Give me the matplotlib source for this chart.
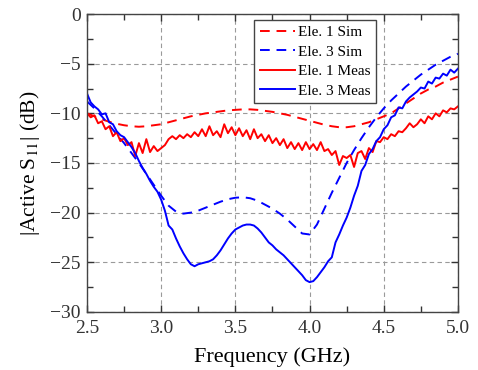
import matplotlib.pyplot as plt
import numpy as np
from matplotlib.ticker import MultipleLocator

plt.rcParams['font.family'] = ['Liberation Serif', 'DejaVu Serif']
plt.rcParams['mathtext.fontset'] = 'stix'

# simulated curves, 0.05 GHz step
f_sim = [2.50, 2.55, 2.60, 2.65, 2.70, 2.75, 2.80, 2.85, 2.90, 2.95,
         3.00, 3.05, 3.10, 3.15, 3.20, 3.25, 3.30, 3.35, 3.40, 3.45,
         3.50, 3.55, 3.60, 3.65, 3.70, 3.75, 3.80, 3.85, 3.90, 3.95,
         4.00, 4.05, 4.10, 4.15, 4.20, 4.25, 4.30, 4.35, 4.40, 4.45,
         4.50, 4.55, 4.60, 4.65, 4.70, 4.75, 4.80, 4.85, 4.90, 4.95, 5.00]
ele1_sim = [-10.0, -10.3, -10.6, -10.85, -11.05, -11.2, -11.3, -11.35, -11.3, -11.2,
            -11.1, -10.9, -10.7, -10.5, -10.3, -10.15, -10.0, -9.9, -9.8, -9.7,
            -9.65, -9.6, -9.6, -9.65, -9.75, -9.85, -10.0, -10.15, -10.35, -10.55,
            -10.75, -10.95, -11.15, -11.3, -11.4, -11.4, -11.3, -11.1, -10.9, -10.6,
            -10.3, -10.0, -9.5, -9.0, -8.5, -8.0, -7.6, -7.3, -6.9, -6.6, -6.3]
ele3_sim = [-8.8, -9.5, -10.3, -11.2, -12.1, -13.0, -14.0, -15.0, -16.1, -17.2,
            -18.3, -19.3, -19.9, -20.1, -20.0, -19.8, -19.5, -19.2, -18.9, -18.65,
            -18.5, -18.45, -18.55, -18.8, -19.2, -19.6, -20.1, -20.7, -21.4, -22.1,
            -22.2, -21.2, -19.6, -18.0, -16.5, -15.0, -13.7, -12.5, -11.4, -10.4,
            -9.5, -8.7, -8.0, -7.3, -6.7, -6.1, -5.6, -5.1, -4.7, -4.3, -4.0]

# measured curves, 0.025 GHz step
f_meas = [2.500, 2.525, 2.550, 2.575, 2.600, 2.625, 2.650, 2.675, 2.700, 2.725,
          2.750, 2.775, 2.800, 2.825, 2.850, 2.875, 2.900, 2.925, 2.950, 2.975,
          3.000, 3.025, 3.050, 3.075, 3.100, 3.125, 3.150, 3.175, 3.200, 3.225,
          3.250, 3.275, 3.300, 3.325, 3.350, 3.375, 3.400, 3.425, 3.450, 3.475,
          3.500, 3.525, 3.550, 3.575, 3.600, 3.625, 3.650, 3.675, 3.700, 3.725,
          3.750, 3.775, 3.800, 3.825, 3.850, 3.875, 3.900, 3.925, 3.950, 3.975,
          4.000, 4.025, 4.050, 4.075, 4.100, 4.125, 4.150, 4.175, 4.200, 4.225,
          4.250, 4.275, 4.300, 4.325, 4.350, 4.375, 4.400, 4.425, 4.450, 4.475,
          4.500, 4.525, 4.550, 4.575, 4.600, 4.625, 4.650, 4.675, 4.700, 4.725,
          4.750, 4.775, 4.800, 4.825, 4.850, 4.875, 4.900, 4.925, 4.950, 4.975, 5.000]
ele1_meas = [-10.0, -10.4, -10.2, -11.0, -10.8, -11.6, -11.3, -12.3, -11.9, -12.8,
             -12.5, -13.2, -12.9, -14.3, -13.0, -14.0, -12.6, -13.9, -13.3, -13.8,
             -13.5, -13.2, -12.6, -12.3, -12.6, -12.2, -12.5, -12.1, -12.4, -11.9,
             -12.3, -11.6, -12.3, -11.3, -12.2, -11.8, -12.4, -11.1, -12.0, -11.4,
             -12.2, -11.5, -12.3, -11.7, -12.6, -11.6, -12.5, -12.1, -12.8, -12.2,
             -13.0, -12.5, -13.2, -12.6, -13.5, -12.9, -13.6, -13.0, -13.7, -12.9,
             -13.6, -13.1, -13.7, -12.9, -13.8, -13.6, -14.2, -13.8, -15.2, -14.3,
             -14.5, -14.2, -15.4, -14.0, -13.8, -14.6, -13.5, -13.9, -12.8, -12.9,
             -12.4, -12.6, -12.1, -12.3, -11.8, -11.9, -11.5, -11.0, -11.4, -11.1,
             -10.6, -11.0, -10.3, -10.6, -10.0, -10.3, -9.7, -9.9, -9.5, -9.6, -9.3]
ele3_meas = [-8.0, -8.9, -9.3, -9.6, -10.1, -10.0, -10.9, -11.1, -11.8, -12.2,
             -12.4, -12.9, -13.4, -14.0, -14.8, -15.5, -16.1, -16.8, -17.4, -17.9,
             -18.7, -19.8, -21.3, -21.7, -22.6, -23.4, -24.1, -24.7, -25.2, -25.4,
             -25.2, -25.1, -25.0, -24.9, -24.7, -24.3, -23.8, -23.2, -22.6, -22.1,
             -21.7, -21.5, -21.3, -21.2, -21.2, -21.3, -21.6, -22.0, -22.5, -23.0,
             -23.3, -23.7, -24.0, -24.3, -24.7, -25.1, -25.5, -25.9, -26.3, -26.8,
             -27.0, -26.9, -26.5, -26.0, -25.5, -24.9, -24.5, -23.0, -22.2, -21.3,
             -20.5, -19.5, -18.3, -17.3, -15.8, -15.2, -14.1, -13.6, -12.8, -12.4,
             -11.6, -11.2, -10.4, -10.2, -9.4, -9.5, -8.8, -8.4, -8.1, -7.8,
             -7.4, -7.5, -6.8, -7.0, -6.4, -6.5, -6.0, -6.2, -5.6, -5.9, -5.5]

fig = plt.figure(figsize=(4.78, 3.70), dpi=100)
ax = fig.add_axes([0.182, 0.157, 0.776, 0.805])

ax.plot(f_sim, ele1_sim, color='red', ls=(0, (5, 3.5)), lw=1.4, label='Ele. 1 Sim')
ax.plot(f_sim, ele3_sim, color='blue', ls=(0, (5, 3.5)), lw=1.4, label='Ele. 3 Sim')
ax.plot(f_meas, ele1_meas, color='red', lw=1.4, label='Ele. 1 Meas')
ax.plot(f_meas, ele3_meas, color='blue', lw=1.4, label='Ele. 3 Meas')

ax.set_xlim(2.5, 5.0)
ax.set_ylim(-30, 0)
ax.xaxis.set_major_locator(MultipleLocator(0.5))
ax.xaxis.set_minor_locator(MultipleLocator(0.25))
ax.yaxis.set_major_locator(MultipleLocator(5))
ax.yaxis.set_minor_locator(MultipleLocator(2.5))
ax.xaxis.set_major_formatter(lambda v, p: f'{v:.1f}')
ax.yaxis.set_major_formatter(lambda v, p: f'{v:.0f}'.replace('-', '\u2212'))
ax.tick_params(which='both', direction='in', top=True, right=True, labelsize=14, colors='#333333')
ax.tick_params(which='major', length=5, width=1)
ax.tick_params(which='minor', length=4, width=1)
ax.tick_params(axis='x', which='major', pad=6)
ax.tick_params(axis='y', which='major', pad=4.5)
for s in ax.spines.values():
    s.set_color('#444444')
    s.set_linewidth(1)
ax.grid(True, which='major', color='#9a9a9a', ls=(0, (4, 3)), lw=0.8)

ax.set_xlabel('Frequency (GHz)', fontsize=16, labelpad=7)
ax.set_ylabel(r'|Active S$_{11}$| (dB)', fontsize=15.5, labelpad=6)

leg = ax.legend(loc='upper right', bbox_to_anchor=(0.778, 0.98), fontsize=11,
                fancybox=False, framealpha=1, edgecolor='#444444',
                handlelength=2.3, handletextpad=0.2, borderpad=0.35, labelspacing=0.38,
                borderaxespad=0)
leg.get_frame().set_linewidth(1)

fig.savefig('out.png', dpi=100)
